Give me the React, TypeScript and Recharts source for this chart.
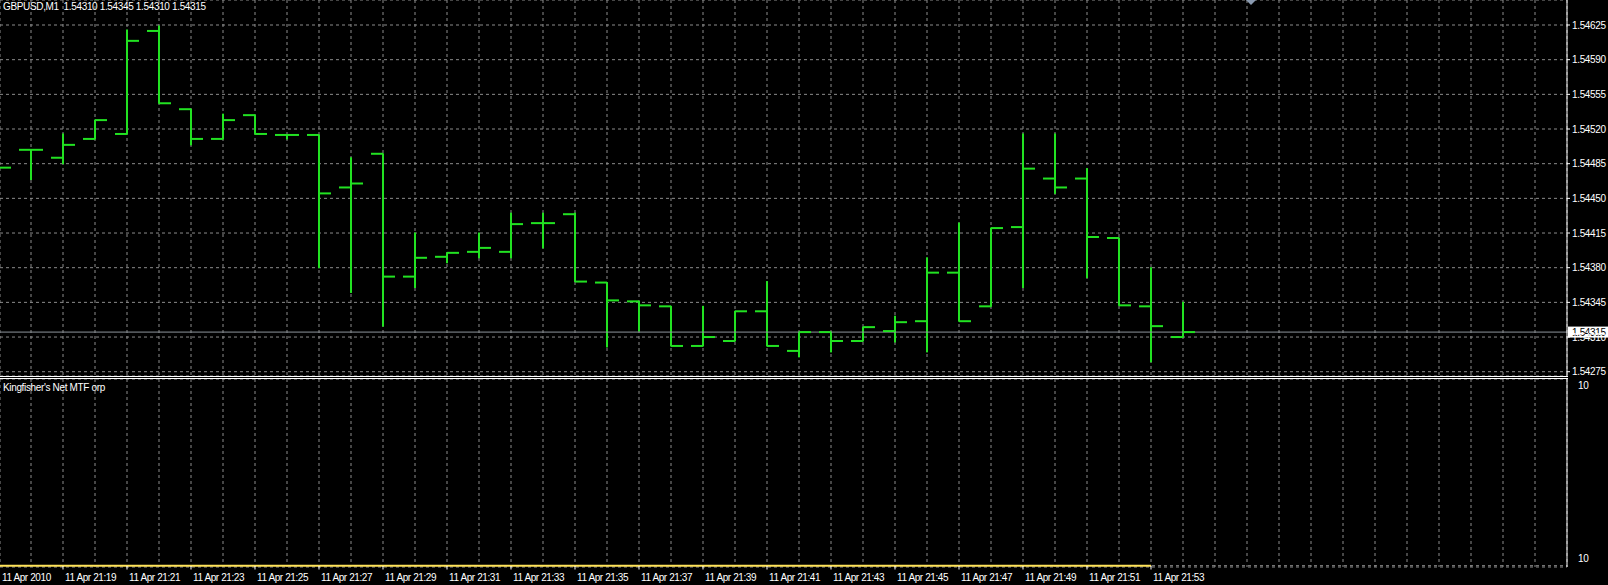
import React from "react"
import {
  ComposedChart,
  Bar,
  Line,
  XAxis,
  YAxis,
  CartesianGrid,
  ReferenceLine
} from "recharts"

// GBPUSD M1, 11 Apr 2010
const barTimes = [
  "21:17", "21:18", "21:19", "21:20", "21:21", "21:22", "21:23", "21:24",
  "21:25", "21:26", "21:27", "21:28", "21:29", "21:30", "21:31", "21:32",
  "21:33", "21:34", "21:35", "21:36", "21:37", "21:38", "21:39", "21:40",
  "21:41", "21:42", "21:43", "21:44", "21:45", "21:46", "21:47", "21:48",
  "21:49", "21:50", "21:51", "21:52", "21:53", "21:54"
]
const opens = [
  1.54485, 1.54499, 1.54491, 1.5451, 1.54515, 1.54619, 1.5454, 1.5451,
  1.54534, 1.54514, 1.54514, 1.54461, 1.54495, 1.54371, 1.54391, 1.54396,
  1.54396, 1.54425, 1.54434, 1.54365, 1.54346, 1.54341, 1.54301, 1.54306,
  1.54336, 1.54296, 1.54315, 1.54306, 1.54316, 1.54326, 1.54375, 1.54341,
  1.54421, 1.5447, 1.5447, 1.5441, 1.54341, 1.5431
]
const highs = [
  1.54495, 1.54499, 1.54515, 1.54529, 1.5462, 1.54624, 1.5454, 1.54535,
  1.54534, 1.54514, 1.54514, 1.54491, 1.54495, 1.54415, 1.54395, 1.54415,
  1.54435, 1.54435, 1.54435, 1.54365, 1.54346, 1.54341, 1.54341, 1.54336,
  1.54366, 1.54315, 1.54315, 1.5432, 1.54331, 1.5439, 1.54425, 1.5442,
  1.54515, 1.54515, 1.5448, 1.5441, 1.5438, 1.54345
]
const lows = [
  1.5447, 1.54469, 1.54485, 1.5451, 1.54515, 1.54546, 1.54504, 1.5451,
  1.54515, 1.5451, 1.5438, 1.54355, 1.54321, 1.5436, 1.54385, 1.5439,
  1.5439, 1.544, 1.54366, 1.543, 1.54316, 1.54301, 1.54301, 1.54306,
  1.54301, 1.5429, 1.54295, 1.54306, 1.54305, 1.54295, 1.54326, 1.54341,
  1.5436, 1.54455, 1.5437, 1.54342, 1.54285, 1.5431
]
const closes = [
  1.54481, 1.54499, 1.54504, 1.54529, 1.54609, 1.54546, 1.5451, 1.54529,
  1.54515, 1.54514, 1.54455, 1.54465, 1.54371, 1.5439, 1.54395, 1.544,
  1.54424, 1.54425, 1.54366, 1.54347, 1.54342, 1.54301, 1.5431, 1.54336,
  1.54301, 1.54315, 1.54306, 1.5432, 1.54325, 1.54375, 1.54326, 1.5442,
  1.5448, 1.54461, 1.54411, 1.54342, 1.54321, 1.54315
]
// Kingfisher's Net MTF indicator (flat at 10, not yet computed on the last bar)
const netValues = [
  10, 10, 10, 10, 10, 10, 10, 10, 10, 10, 10, 10, 10, 10, 10, 10, 10, 10, 10,
  10, 10, 10, 10, 10, 10, 10, 10, 10, 10, 10, 10, 10, 10, 10, 10, 10, 10, null
]
const priceTicks = [
  1.54275, 1.5431, 1.54345, 1.5438, 1.54415, 1.5445, 1.54485, 1.5452,
  1.54555, 1.5459, 1.54625
]
const netTicks = [10, 10.0001]
const timeTickBars = [0, 2, 4, 6, 8, 10, 12, 14, 16, 18, 20, 22, 24, 26, 28, 30, 32, 34, 36]
const timeTickLabels = [
  "11 Apr 2010", "11 Apr 21:19", "11 Apr 21:21", "11 Apr 21:23", "11 Apr 21:25",
  "11 Apr 21:27", "11 Apr 21:29", "11 Apr 21:31", "11 Apr 21:33", "11 Apr 21:35",
  "11 Apr 21:37", "11 Apr 21:39", "11 Apr 21:41", "11 Apr 21:43", "11 Apr 21:45",
  "11 Apr 21:47", "11 Apr 21:49", "11 Apr 21:51", "11 Apr 21:53"
]

const GREEN = "#22e222"
const GRID = "#8c8c8c"
const FONT = "'Liberation Sans', Arial, sans-serif"
const X_MIN = 0.03125
const X_MAX = 49
const P_MIN = 1.5427067
const P_MAX = 1.5465024
// a hair below 10 so the indicator line is not clipped at the pane bottom
const N_MIN = 9.9999993
const N_MAX = 10.0001

const rows = barTimes.map((t, i) => ({
  i,
  time: t,
  open: opens[i],
  high: highs[i],
  low: lows[i],
  close: closes[i],
  range: [lows[i], highs[i]],
  net: netValues[i]
}))

const gridBars = Array.from({ length: 49 }, (_, k) => k + 1)
const timeTickValues = timeTickBars.map((b) => Math.max(b, X_MIN))
const lastClose = closes[closes.length - 1]

const RangeShape = (p: any) => {
  const top = Math.min(p.y, p.y + p.height)
  const h = Math.abs(p.height)
  const cx = p.x + p.width / 2
  return <rect x={cx - 1} y={top - 0.5} width={2} height={h + 1} fill={GREEN} />
}

const openDot = (p: any) => {
  if (p.cx == null || p.cy == null) return <g key={`o${p.index}`} />
  return <line key={`o${p.index}`} x1={p.cx - 12} x2={p.cx} y1={p.cy} y2={p.cy} stroke={GREEN} strokeWidth={2} />
}

const closeDot = (p: any) => {
  if (p.cx == null || p.cy == null) return <g key={`c${p.index}`} />
  return <line key={`c${p.index}`} x1={p.cx} x2={p.cx + 12} y1={p.cy} y2={p.cy} stroke={GREEN} strokeWidth={2} />
}

const PriceTick = (p: any) => (
  <text x={p.x} y={p.y} dy={3.5} fill="#ffffff" fontSize={10} fontFamily={FONT} letterSpacing={-0.35} textAnchor="start">
    {Number(p.payload.value).toFixed(5)}
  </text>
)

const PriceTag = (p: any) => {
  const vb = p.viewBox || {}
  const x = vb.x + vb.width + 1
  return (
    <g>
      <rect x={x} y={vb.y - 5.5} width={40} height={11} fill="#ffffff" />
      <text x={x + 4} y={vb.y} dy={3.5} fill="#000000" fontSize={10} fontFamily={FONT} letterSpacing={-0.35}>
        {lastClose.toFixed(5)}
      </text>
    </g>
  )
}

const TimeTick = (p: any) => {
  const idx = p.index
  const top = p.y - 10
  return (
    <g>
      {idx > 0 && <line x1={p.x} x2={p.x} y1={top + 1} y2={top + 4.5} stroke="#ffffff" />}
      <text x={p.x + 2} y={top + 15.5} fill="#ffffff" fontSize={10} fontFamily={FONT} letterSpacing={-0.4}>
        {timeTickLabels[idx]}
      </text>
    </g>
  )
}

const NetTick = (p: any) => {
  const isTop = p.index === 1
  return (
    <text x={p.x} y={p.y} dy={isTop ? 10 : -4} fill="#ffffff" fontSize={10} fontFamily={FONT} letterSpacing={-0.35}>
      {Math.round(p.payload.value)}
    </text>
  )
}

export default function App() {
  return (
    <div style={{ position: "absolute", left: 0, top: 0, width: 1608, height: 585, background: "#000", overflow: "hidden" }}>
      <div style={{ position: "absolute", left: 0, top: 0 }}>
        <ComposedChart width={1608} height={376} data={rows} margin={{ top: 0, right: 0, bottom: 0, left: 0 }}>
          <CartesianGrid stroke={GRID} strokeDasharray="3 3" />
          <XAxis type="number" dataKey="i" domain={[X_MIN, X_MAX]} allowDataOverflow ticks={gridBars} interval={0} hide />
          <YAxis
            orientation="right"
            width={41}
            domain={[P_MIN, P_MAX]}
            allowDataOverflow
            ticks={priceTicks}
            interval={0}
            tick={<PriceTick />}
            tickSize={3}
            tickMargin={2}
            tickLine={{ stroke: "#ffffff" }}
            axisLine={{ stroke: "#ffffff" }}
          />
          <ReferenceLine y={lastClose} stroke="#8e949c" label={<PriceTag />} />
          <Bar dataKey="range" barSize={2} shape={<RangeShape />} isAnimationActive={false} />
          <Line dataKey="open" stroke="none" dot={openDot} activeDot={false} isAnimationActive={false} />
          <Line dataKey="close" stroke="none" dot={closeDot} activeDot={false} isAnimationActive={false} />
        </ComposedChart>
      </div>

      <div style={{ position: "absolute", left: 0, top: 376, width: 1568, height: 1, background: "#fff" }} />
      <div style={{ position: "absolute", left: 0, top: 378, width: 1568, height: 1, background: "#fff" }} />

      <div style={{ position: "absolute", left: 0, top: 379 }}>
        <ComposedChart width={1608} height={206} data={rows} margin={{ top: 0, right: 0, bottom: 0, left: 0 }}>
          <CartesianGrid stroke={GRID} strokeDasharray="3 3" xAxisId="grid" />
          <XAxis xAxisId="grid" type="number" dataKey="i" domain={[X_MIN, X_MAX]} allowDataOverflow ticks={gridBars} interval={0} hide />
          <XAxis
            type="number"
            dataKey="i"
            domain={[X_MIN, X_MAX]}
            allowDataOverflow
            ticks={timeTickValues}
            interval={0}
            height={18}
            axisLine={false}
            tickLine={false}
            tick={<TimeTick />}
          />
          <YAxis
            orientation="right"
            width={41}
            domain={[N_MIN, N_MAX]}
            allowDataOverflow
            ticks={netTicks}
            interval={0}
            tickLine={false}
            tickMargin={5}
            axisLine={{ stroke: "#ffffff" }}
            tick={<NetTick />}
          />
          <Line dataKey="net" stroke="#ffe35a" strokeWidth={2} dot={false} activeDot={false} isAnimationActive={false} />
        </ComposedChart>
      </div>

      <div style={{ position: "absolute", left: 3, top: 1, color: "#fff", fontFamily: FONT, fontSize: 10, letterSpacing: -0.35, whiteSpace: "pre" }}>
        {"GBPUSD,M1  1.54310 1.54345 1.54310 1.54315"}
      </div>
      <div style={{ position: "absolute", left: 3, top: 382, color: "#fff", fontFamily: FONT, fontSize: 10, letterSpacing: -0.35, whiteSpace: "pre" }}>
        {"Kingfisher's Net MTF orp"}
      </div>
      <svg style={{ position: "absolute", left: 1244, top: 0 }} width={14} height={8}>
        <polygon points="2,0 12,0 7,5" fill="#8a9ab0" />
      </svg>
    </div>
  )
}
